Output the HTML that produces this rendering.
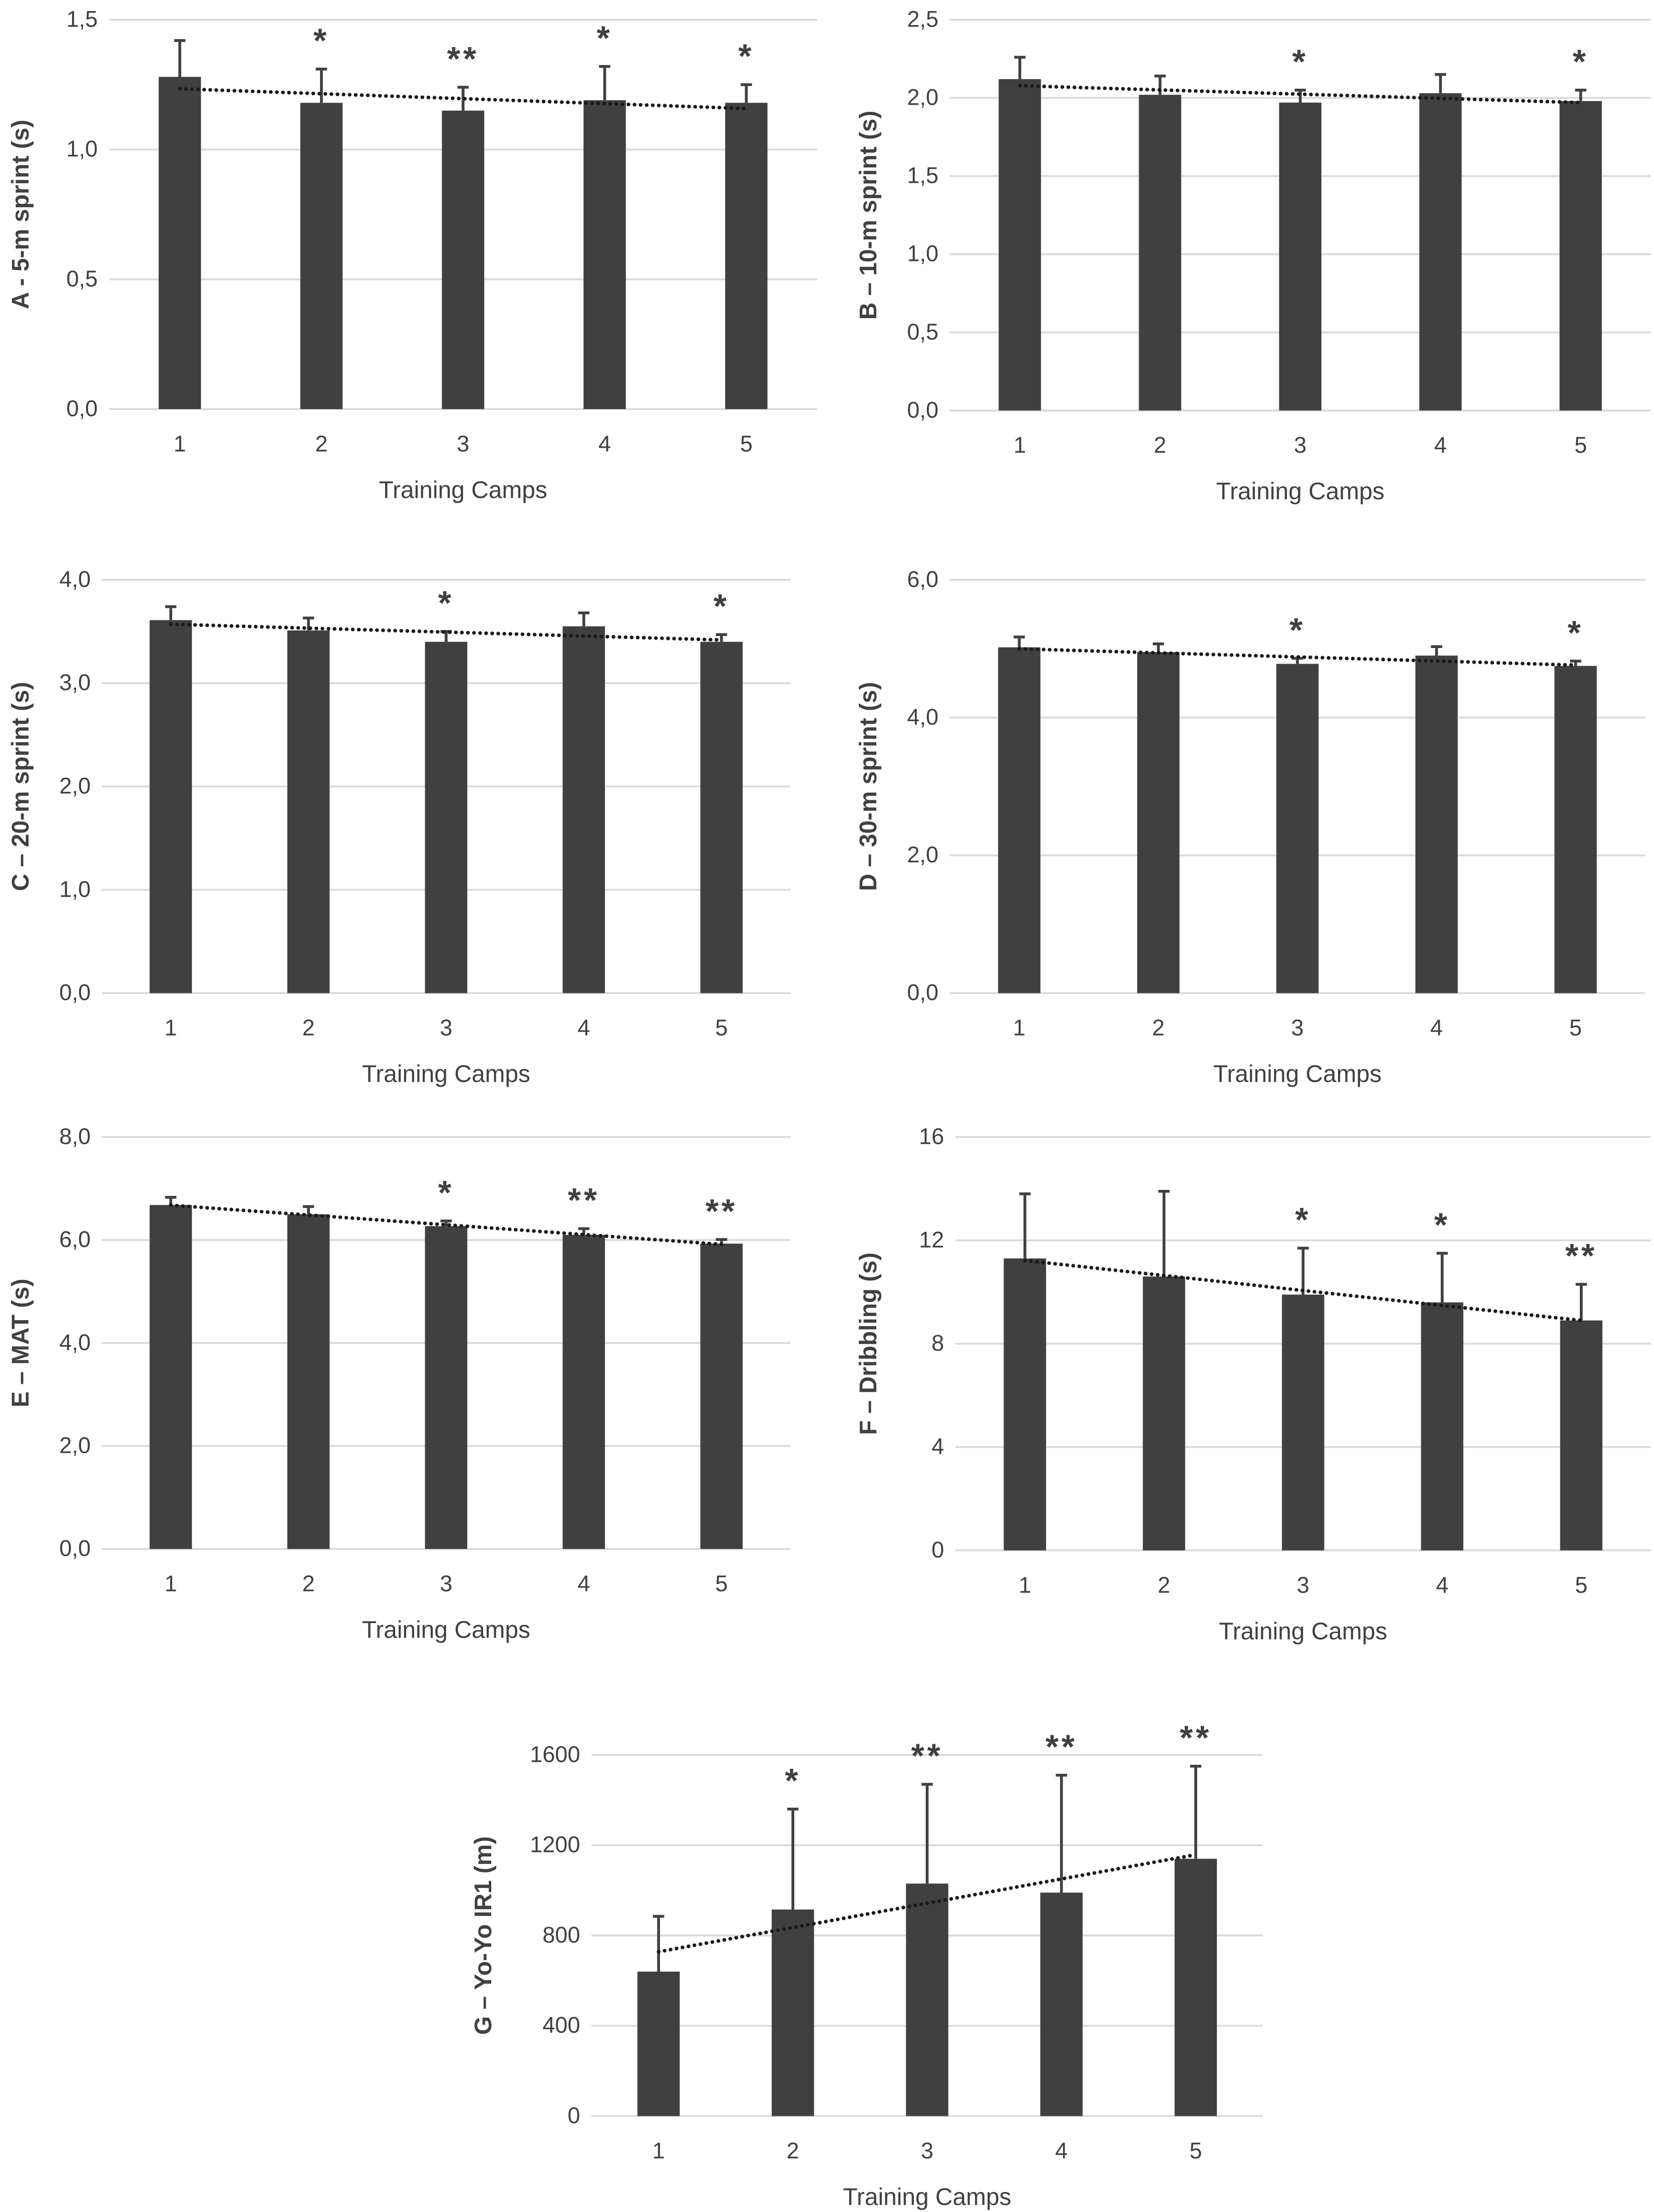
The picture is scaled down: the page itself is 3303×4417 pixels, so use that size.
<!DOCTYPE html>
<html><head><meta charset="utf-8"><style>
html,body{margin:0;padding:0;background:#fff}
svg{display:block}
text{font-family:"Liberation Sans",sans-serif;fill:#404040}
</style></head><body>
<svg id="fig" xmlns="http://www.w3.org/2000/svg" width="3303" height="4417" viewBox="0 0 1172 1568"></svg>
<script>
const categories = ["1","2","3","4","5"];
const meansA = [1.28,1.18,1.15,1.19,1.18];
const sdA = [0.14,0.13,0.09,0.13,0.07];
const starsA = ["","*","**","*","*"];
const ticksA = ["0,0","0,5","1,0","1,5"];
const meansB = [2.12,2.02,1.97,2.03,1.98];
const sdB = [0.14,0.12,0.08,0.12,0.07];
const starsB = ["","","*","","*"];
const ticksB = ["0,0","0,5","1,0","1,5","2,0","2,5"];
const meansC = [3.61,3.51,3.40,3.55,3.40];
const sdC = [0.13,0.12,0.10,0.13,0.07];
const starsC = ["","","*","","*"];
const ticksC = ["0,0","1,0","2,0","3,0","4,0"];
const meansD = [5.02,4.95,4.78,4.90,4.75];
const sdD = [0.15,0.12,0.08,0.13,0.07];
const starsD = ["","","*","","*"];
const ticksD = ["0,0","2,0","4,0","6,0"];
const meansE = [6.68,6.50,6.27,6.10,5.93];
const sdE = [0.15,0.15,0.10,0.12,0.08];
const starsE = ["","","*","**","**"];
const ticksE = ["0,0","2,0","4,0","6,0","8,0"];
const meansF = [11.3,10.6,9.9,9.6,8.9];
const sdF = [2.5,3.3,1.8,1.9,1.4];
const starsF = ["","","*","*","**"];
const ticksF = ["0","4","8","12","16"];
const meansG = [640,915,1030,990,1140];
const sdG = [245,445,440,520,410];
const starsG = ["","*","**","**","**"];
const ticksG = ["0","400","800","1200","1600"];

const NS="http://www.w3.org/2000/svg";
const svg=document.getElementById('fig');
function mk(tag,attrs,parent,txt){const e=document.createElementNS(NS,tag);for(const k in attrs)e.setAttribute(k,attrs[k]);if(txt!==undefined)e.textContent=txt;parent.appendChild(e);return e;}

function panel(id,cfg,means,sd,stars,ticks){
  const g=mk('g',{},svg);
  
  
  const max=parseFloat(ticks[ticks.length-1].replace(',','.'));
  const y=v=>cfg.y1-(v/max)*(cfg.y1-cfg.y0);
  const step=(cfg.x1-cfg.x0)/5;
  const x=i=>cfg.x0+step*(i+0.5)+(cfg.dx||0);
  ticks.forEach(t=>{
    const v=parseFloat(t.replace(',','.'));
    const l=mk('line',{x1:cfg.x0,x2:cfg.x1,y1:y(v),y2:y(v),stroke:'#d9d9d9','stroke-width':1.3},g);
    
    
    const tt=mk('text',{x:cfg.x0-8,y:y(v)+5,'text-anchor':'end','font-size':16},g,t);
    
    
  });
  means.forEach((m,i)=>{
    const b=mk('rect',{x:x(i)-15,y:y(m),width:30,height:y(0)-y(m),fill:'#404040'},g);
    
    
    const et=y(m+sd[i]);
    const e=mk('path',{d:`M${x(i)} ${y(m)}V${et}M${x(i)-4} ${et}H${x(i)+4}`,stroke:'#404040','stroke-width':2,fill:'none'},g);
    
    
    if(stars[i]){
      const s=mk('text',{x:x(i),y:et-12,'text-anchor':'middle','font-size':24,'font-weight':'bold','letter-spacing':2},g,stars[i]);
      
      
    }
    const c=mk('text',{x:x(i),y:cfg.y1+30,'text-anchor':'middle','font-size':16},g,categories[i]);
    
    
  });
  const n=means.length;let mx=0,my=0;means.forEach((m,i)=>{mx+=i;my+=m});mx/=n;my/=n;
  let sxy=0,sxx=0;means.forEach((m,i)=>{sxy+=(i-mx)*(m-my);sxx+=(i-mx)*(i-mx)});
  const sl=sxy/sxx, ic=my-sl*mx;
  const tl=mk('line',{x1:x(0),x2:x(n-1),y1:y(ic),y2:y(ic+sl*(n-1)),stroke:'#1a1a1a','stroke-width':2.6,'stroke-dasharray':'0.1 4.2','stroke-linecap':'round'},g);
  
  
  const xt=mk('text',{x:(cfg.x0+cfg.x1)/2,y:cfg.y1+63,'text-anchor':'middle','font-size':17},g,'Training Camps');
  
  
  const yc=(cfg.y0+cfg.y1)/2;
  const yt=mk('text',{x:cfg.tx,y:yc,'text-anchor':'middle','font-size':17,'font-weight':'bold',fill:'#000',transform:`rotate(-90 ${cfg.tx} ${yc})`},g,cfg.title);
  
  
}
panel('a',{x0:77,x1:579,y0:14,y1:290,tx:20,title:'A - 5-m sprint (s)'},meansA,sdA,starsA,ticksA);
panel('b',{x0:673,x1:1170,y0:14,y1:291,tx:621,title:'B – 10-m sprint (s)'},meansB,sdB,starsB,ticksB);
panel('c',{x0:72,x1:560,y0:411,y1:704,tx:20,title:'C – 20-m sprint (s)'},meansC,sdC,starsC,ticksC);
panel('d',{x0:673,x1:1166,y0:411,y1:704,tx:621,title:'D – 30-m sprint (s)'},meansD,sdD,starsD,ticksD);
panel('e',{x0:72,x1:560,y0:806,y1:1098,tx:20,title:'E – MAT (s)'},meansE,sdE,starsE,ticksE);
panel('f',{x0:677,x1:1170,y0:806,y1:1099,tx:621,title:'F – Dribbling (s)'},meansF,sdF,starsF,ticksF);
panel('g',{x0:419,x1:895,y0:1244,y1:1500,tx:348,title:'G – Yo-Yo IR1 (m)'},meansG,sdG,starsG,ticksG);
</script>
</body></html>
